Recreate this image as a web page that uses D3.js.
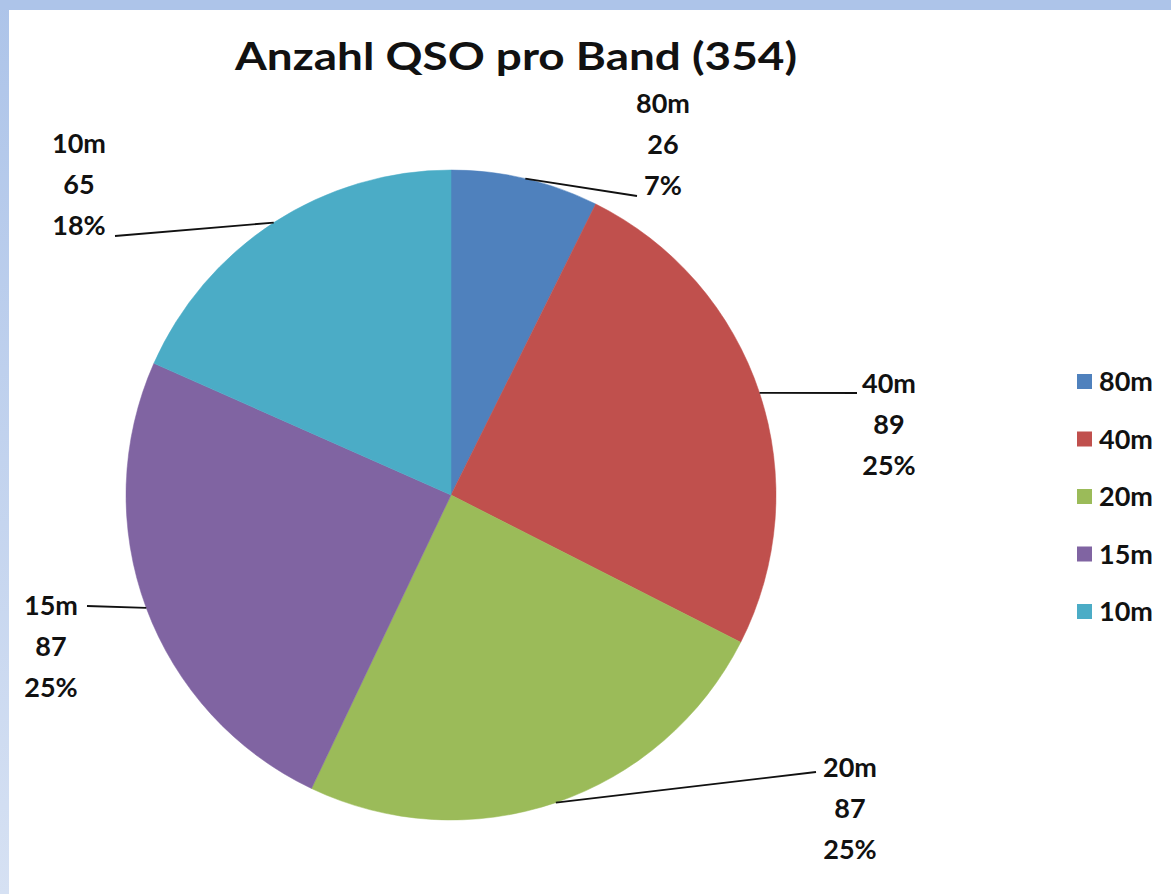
<!DOCTYPE html>
<html><head><meta charset="utf-8">
<script src="https://cdn.jsdelivr.net/npm/d3@7"></script>
<style>
html,body{margin:0;padding:0;background:#fff;overflow:hidden}
</style></head>
<body>
<svg id="chart" width="1171" height="894"></svg>
<script>
const title = "Anzahl QSO pro Band (354)";
const bands = ["80m", "40m", "20m", "15m", "10m"];
const counts = [26, 89, 87, 87, 65];
const colors = ["#4f81bd", "#c0504d", "#9bbb59", "#8064a2", "#4bacc6"];
// label anchor layout (text center x, first line center y, leader end x, leader end y)
const labelX = [663, 889, 850, 51, 79];
const labelY = [103, 383, 767, 605, 143];
const leadEndX = [637, 857, 816, 87, 115];
const leadEndY = [196, 393, 772, 606, 236];

const W = 1171, H = 894;
const svg = d3.select("#chart");
const defs = svg.append("defs");
const g1 = defs.append("linearGradient").attr("id","lb").attr("x1",0).attr("y1",0).attr("x2",0).attr("y2",1);
g1.append("stop").attr("offset","0%").attr("stop-color","#adc4e9");
g1.append("stop").attr("offset","100%").attr("stop-color","#d6e1f3");
svg.append("rect").attr("x",0).attr("y",0).attr("width",W).attr("height",H).attr("fill","#fff");
svg.append("rect").attr("x",0).attr("y",0).attr("width",9).attr("height",H).attr("fill","url(#lb)");
svg.append("rect").attr("x",0).attr("y",0).attr("width",W).attr("height",10).attr("fill","#adc4e9");

const font = "Lato, 'Open Sans', sans-serif";
svg.append("text").attr("x", 516).attr("y", 70).attr("text-anchor","middle")
  .attr("font-family", font).attr("font-weight","bold").attr("font-size", 38)
  .attr("textLength", 562).attr("lengthAdjust","spacingAndGlyphs")
  .attr("fill","#111").text(title);

const cx = 451, cy = 495, R = 325;
const total = d3.sum(counts);
const data = bands.map((b,i)=>({band:b, value:counts[i], i}));
const pie = d3.pie().value(d=>d.value).sort(null);
const arcs = pie(data);
const arc = d3.arc().innerRadius(0).outerRadius(R);
const g = svg.append("g").attr("transform",`translate(${cx},${cy})`);
g.selectAll("path").data(arcs).join("path")
  .attr("d", arc).attr("fill", d=>colors[d.data.i])
  .attr("stroke", d=>colors[d.data.i]).attr("stroke-width", 0.5);

// leader lines + labels
arcs.forEach(a=>{
  const m = (a.startAngle + a.endAngle)/2;
  const sx = cx + R*Math.sin(m), sy = cy - R*Math.cos(m);
  const i = a.data.i;
  svg.append("line").attr("x1", sx).attr("y1", sy).attr("x2", leadEndX[i]).attr("y2", leadEndY[i])
    .attr("stroke","#111").attr("stroke-width",1.8);
  const pct = Math.round(a.data.value/total*100) + "%";
  const lines = [a.data.band, String(a.data.value), pct];
  const t = svg.append("text").attr("text-anchor","middle").attr("font-family",font)
    .attr("font-weight","bold").attr("font-size",27).attr("fill","#111");
  lines.forEach((s,k)=>{
    t.append("tspan").attr("x", labelX[i]).attr("y", labelY[i] + 10 + k*41).text(s);
  });
});

// legend
const lg = svg.append("g");
bands.forEach((b,i)=>{
  const y = 381 + i*57.5;
  lg.append("rect").attr("x",1077).attr("y",y-7).attr("width",15).attr("height",15).attr("fill",colors[i]);
  lg.append("text").attr("x",1099).attr("y",y+10).attr("font-family",font).attr("font-weight","bold")
    .attr("font-size",27).attr("fill","#111").text(b);
});
</script>
</body></html>
